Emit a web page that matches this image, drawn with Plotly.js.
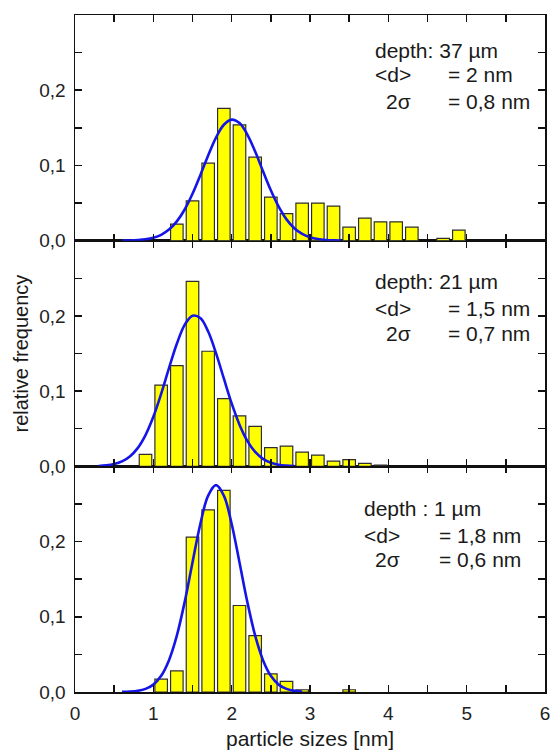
<!DOCTYPE html>
<html>
<head>
<meta charset="utf-8">
<script src="https://cdn.plot.ly/plotly-3.0.1.min.js"></script>
<style>html,body{margin:0;padding:0;background:#fff;}#chart{width:552px;height:751px;}</style>
</head>
<body>
<div id="chart"></div>
<script>
// ---- data ----
// top panel: depth 37 µm
var sizesTop = [1.3,1.5,1.7,1.9,2.1,2.3,2.5,2.7,2.9,3.1,3.3,3.5,3.7,3.9,4.1,4.3,4.7,4.9];
var freqTop  = [0.022,0.053,0.103,0.176,0.154,0.111,0.058,0.036,0.050,0.050,0.046,0.018,0.030,0.025,0.025,0.018,0.003,0.014];
var fitXTop  = [0.6,0.7,0.8,0.9,1.0,1.1,1.2,1.3,1.4,1.5,1.6,1.7,1.8,1.9,2.0,2.1,2.2,2.3,2.4,2.5,2.6,2.7,2.8,2.9,3.0,3.1,3.2,3.3,3.4];
var fitYTop  = [0.0001,0.0003,0.0008,0.0018,0.0039,0.0078,0.0147,0.0256,0.0414,0.0623,0.0871,0.1133,0.1371,0.1541,0.1609,0.1563,0.1411,0.1185,0.0923,0.0670,0.0452,0.0283,0.0165,0.0089,0.0045,0.0021,0.0009,0.0004,0.0001];

// middle panel: depth 21 µm
var sizesMid = [0.9,1.1,1.3,1.5,1.7,1.9,2.1,2.3,2.5,2.7,2.9,3.1,3.3,3.5,3.7,3.9];
var freqMid  = [0.016,0.108,0.134,0.246,0.153,0.090,0.067,0.053,0.025,0.027,0.019,0.015,0.007,0.009,0.004,0.0015];
var fitXMid  = [0.3,0.4,0.5,0.6,0.7,0.8,0.9,1.0,1.1,1.2,1.3,1.4,1.5,1.6,1.7,1.8,1.9,2.0,2.1,2.2,2.3,2.4,2.5,2.6,2.7,2.8];
var fitYMid  = [0.0005,0.0013,0.0030,0.0065,0.0131,0.0242,0.0416,0.0659,0.0965,0.1305,0.1629,0.1880,0.2003,0.1971,0.1792,0.1505,0.1168,0.0836,0.0554,0.0338,0.0191,0.0100,0.0048,0.0021,0.0009,0.0003];

// bottom panel: depth 1 µm
var sizesBot = [1.1,1.3,1.5,1.7,1.9,2.1,2.3,2.5,2.7,2.9,3.5];
var freqBot  = [0.017,0.028,0.206,0.242,0.268,0.115,0.075,0.024,0.014,0.003,0.003];
var fitXBot  = [0.6,0.7,0.8,0.9,1.0,1.1,1.2,1.3,1.4,1.5,1.6,1.7,1.8,1.9,2.0,2.1,2.2,2.3,2.4,2.5,2.6,2.7,2.8,2.9];
var fitYBot  = [0.0002,0.0005,0.0015,0.0041,0.0098,0.0215,0.0423,0.0749,0.1197,0.1722,0.2234,0.2611,0.2750,0.2611,0.2234,0.1722,0.1197,0.0749,0.0423,0.0215,0.0098,0.0041,0.0015,0.0005];

// tick labels
var xTickVals = [0,0.5,1,1.5,2,2.5,3,3.5,4,4.5,5,5.5,6];
var xTickText = ['0','','1','','2','','3','','4','','5','','6'];
var yTickVals = [0,0.05,0.1,0.15,0.2,0.25];
var yTickText = ['0,0','','0,1','','0,2',''];

// panel texts
var labelsTop = ['depth: 37 µm','<d>','2σ','= 2 nm','= 0,8 nm'];
var labelsMid = ['depth: 21 µm','<d>','2σ','= 1,5 nm','= 0,7 nm'];
var labelsBot = ['depth : 1 µm','<d>','2σ','= 1,8 nm','= 0,6 nm'];
var xTitle = 'particle sizes [nm]';
var yTitle = 'relative frequency';

// ---- styling ----
var FONT = 'Liberation Sans, Arial, sans-serif';
var barColor = '#ffff00', barLine = '#2e2e2e', fitColor = '#1515e8';
var frameColor = '#111111';

function barTrace(x, y, xa, ya) {
  return {type:'bar', x:x, y:y, xaxis:xa, yaxis:ya, width:0.16,
    marker:{color:barColor, line:{color:barLine, width:1.2}}, hoverinfo:'skip'};
}
function fitTrace(x, y, xa, ya) {
  return {type:'scatter', mode:'lines', x:x, y:y, xaxis:xa, yaxis:ya,
    line:{color:fitColor, width:2.6, shape:'spline', smoothing:1}, hoverinfo:'skip'};
}

var data = [
  barTrace(sizesTop, freqTop, 'x3', 'y3'), fitTrace(fitXTop, fitYTop, 'x3', 'y3'),
  barTrace(sizesMid, freqMid, 'x2', 'y2'), fitTrace(fitXMid, fitYMid, 'x2', 'y2'),
  barTrace(sizesBot, freqBot, 'x', 'y'),   fitTrace(fitXBot, fitYBot, 'x', 'y')
];

function xAxis(anchor, showLabels) {
  return {anchor:anchor, domain:[0,1], range:[0,6], tickmode:'array', tickvals:xTickVals, ticktext:xTickText,
    showticklabels:showLabels, ticks:'inside', ticklen:7, tickwidth:1.5, tickcolor:frameColor,
    showline:true, linecolor:frameColor, linewidth:1.5, mirror:'ticks', showgrid:false, zeroline:false,
    tickfont:{family:FONT, size:19, color:'#222'}, ticklabelstandoff:4, fixedrange:true};
}
function yAxis(anchor, dom) {
  return {anchor:anchor, domain:dom, range:[0,0.30], tickmode:'array', tickvals:yTickVals, ticktext:yTickText,
    ticks:'inside', ticklen:7, tickwidth:1.5, tickcolor:frameColor,
    showline:true, linecolor:frameColor, linewidth:1.5, mirror:'ticks', showgrid:false, zeroline:false,
    tickfont:{family:FONT, size:19, color:'#222'}, ticklabelstandoff:4, fixedrange:true};
}

function panelNotes(labels, xref, yref, xs, ys) {
  // xs: [x of first column, x of "2σ", x of value column]; ys: [line1, line2, line3]
  var f = {family:FONT, size:21, color:'#1a1a1a'};
  var mk = function(t, x, y) { return {text:t, x:x, y:y, xref:xref, yref:yref, xanchor:'left', yanchor:'middle', showarrow:false, font:f}; };
  return [
    mk(labels[0], xs[0], ys[0]),
    mk(labels[1], xs[0], ys[1]),
    mk(labels[2], xs[1], ys[2]),
    mk(labels[3], xs[2], ys[1]),
    mk(labels[4], xs[2], ys[2])
  ];
}

var annotations = []
  .concat(panelNotes(labelsTop, 'x3', 'y3', [3.80, 3.95, 4.73], [0.253, 0.221, 0.185]))
  .concat(panelNotes(labelsMid, 'x2', 'y2', [3.80, 3.95, 4.73], [0.246, 0.210, 0.176]))
  .concat(panelNotes(labelsBot, 'x',  'y',  [3.67, 3.81, 4.62], [0.244, 0.208, 0.176]));
annotations.push({text:xTitle, xref:'paper', yref:'paper', x:0.5, y:-0.068, xanchor:'center', yanchor:'middle',
  showarrow:false, font:{family:FONT, size:21, color:'#1a1a1a'}});
annotations.push({text:yTitle, xref:'paper', yref:'paper', x:-0.117, y:0.5, xanchor:'center', yanchor:'middle',
  textangle:-90, showarrow:false, font:{family:FONT, size:20, color:'#1a1a1a'}});

var layout = {
  width:552, height:751,
  margin:{l:75, r:7, t:15, b:59, pad:0},
  paper_bgcolor:'#ffffff', plot_bgcolor:'#ffffff',
  showlegend:false, hovermode:false, barmode:'overlay',
  xaxis: xAxis('y', true),
  xaxis2: xAxis('y2', false),
  xaxis3: xAxis('y3', false),
  yaxis: yAxis('x', [0, 1/3]),
  yaxis2: yAxis('x2', [1/3, 2/3]),
  yaxis3: yAxis('x3', [2/3, 1]),
  annotations: annotations
};
layout.xaxis2.matches = 'x';
layout.xaxis3.matches = 'x';

Plotly.newPlot('chart', data, layout, {displayModeBar:false, staticPlot:true});
</script>
</body>
</html>
